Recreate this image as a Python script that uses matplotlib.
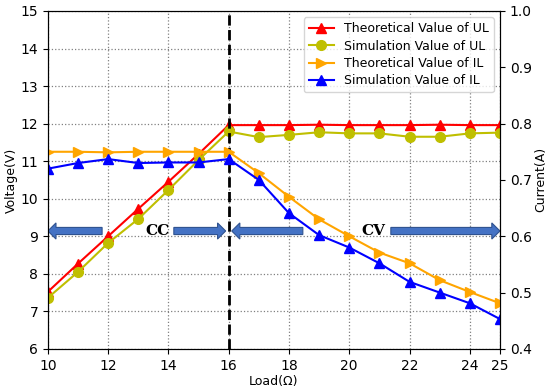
# Voltage / current vs load
import matplotlib.pyplot as plt
from matplotlib.patches import FancyArrow
import numpy as np

load = [10, 11, 12, 13, 14, 15, 16, 17, 18, 19, 20, 21, 22, 23, 24, 25]

ul_theory = [7.52, 8.27, 9.00, 9.73, 10.45, 11.19, 11.96, 11.96, 11.96, 11.97,
             11.96, 11.96, 11.96, 11.97, 11.96, 11.96]
ul_sim = [7.36, 8.05, 8.82, 9.46, 10.23, 11.03, 11.79, 11.64, 11.70, 11.77,
          11.74, 11.74, 11.65, 11.65, 11.74, 11.76]
il_theory = [0.750, 0.750, 0.749, 0.750, 0.750, 0.750, 0.750, 0.712, 0.670, 0.630,
             0.600, 0.571, 0.552, 0.522, 0.501, 0.481]
il_sim = [0.720, 0.730, 0.737, 0.730, 0.731, 0.731, 0.737, 0.700, 0.641, 0.602,
          0.580, 0.552, 0.519, 0.500, 0.481, 0.453]

xticks = [10, 12, 14, 16, 18, 20, 22, 24, 25]

fig = plt.figure(figsize=(5.5, 3.92), dpi=100)
ax = fig.add_axes([0.087, 0.110, 0.822, 0.862])
ax2 = ax.twinx()

l1, = ax.plot(load, ul_theory, color='red', marker='^', markersize=7, lw=1.5,
              label='Theoretical Value of UL')
l2, = ax.plot(load, ul_sim, color='#bfbf00', marker='o', markersize=7, lw=1.5,
              label='Simulation Value of UL')
l3, = ax2.plot(load, il_theory, color='orange', marker='>', markersize=7, lw=1.5,
               label='Theoretical Value of IL')
l4, = ax2.plot(load, il_sim, color='blue', marker='^', markersize=7, lw=1.5,
               label='Simulation Value of IL')

ax.axvline(16, color='black', linestyle='--', lw=2)

ax.set_xlim(10, 25)
ax.set_ylim(6, 15)
ax2.set_ylim(0.4, 1.0)
ax.set_xticks(xticks)
ax.set_yticks(np.arange(6, 16, 1))
ax.grid(color='gray', linestyle=':', lw=0.9)

ax.set_xlabel('Load(Ω)', fontsize=9, labelpad=2)
ax.set_ylabel('Voltage(V)', fontsize=9, labelpad=2)
ax2.set_ylabel('Current(A)', fontsize=9, labelpad=2)
ax.tick_params(labelsize=10)
ax2.tick_params(labelsize=10)

# CC / CV arrows
arrow_kw = dict(width=0.19, head_width=0.43, head_length=0.27,
                length_includes_head=True, facecolor='#4472C4',
                edgecolor='#2F528F', lw=0.8, zorder=5)
y_arr = 9.14
for x0, x1 in [(11.8, 10.0), (14.18, 15.9), (18.46, 16.1), (21.38, 25.0)]:
    ax.add_patch(FancyArrow(x0, y_arr, x1 - x0, 0, **arrow_kw))
ax.text(13.64, y_arr, 'CC', fontsize=11, fontweight='bold', family='serif',
        ha='center', va='center')
ax.text(20.8, y_arr, 'CV', fontsize=11, fontweight='bold', family='serif',
        ha='center', va='center')

ax2.legend(handles=[l1, l2, l3, l4], loc='upper right', fontsize=9,
           handlelength=2, borderpad=0.4, labelspacing=0.35)

plt.savefig('out.png')
